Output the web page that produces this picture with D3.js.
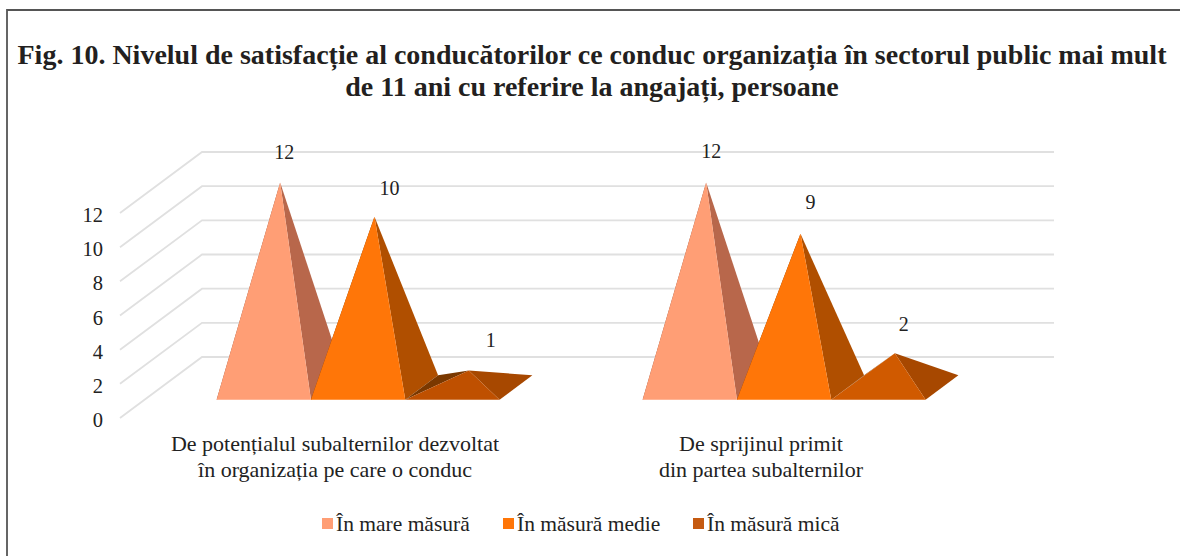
<!DOCTYPE html>
<html><head><meta charset="utf-8">
<script src="https://cdn.jsdelivr.net/npm/d3@7"></script>
<style>html,body{margin:0;padding:0;background:#fff}svg{display:block}text{font-family:"Liberation Serif",serif}</style>
</head><body><div id="c"></div>
<script>
const titleLines = ["Fig. 10. Nivelul de satisfacție al conducătorilor ce conduc organizația în sectorul public mai mult","de 11 ani cu referire la angajați, persoane"];
const categories = ["De potențialul subalternilor dezvoltat|în organizația pe care o conduc","De sprijinul primit|din partea subalternilor"];
const seriesNames = ["În mare măsură","În măsură medie","În măsură mică"];
const serie1 = [12,12];
const serie2 = [10,9];
const serie3 = [1,2];
const tickValues = [0,2,4,6,8,10,12];

const W=1180,H=556;
const svg=d3.select("#c").append("svg").attr("width",W).attr("height",H);
const seriesData=[serie1,serie2,serie3];
const frontColors=[["#FF9E75","#FF9E75"],["#FF7608","#FF7608"],["#BF5000","#D05A00"]];
const rightColors=["#B8674B","#B04F00","#A74800"];
const leftColors=["#8a4a35","#7a3800","#7a3800"];
const legendColors=["#FF9E75","#FF7608","#C55A11"];
const labelNudge=[[[4,-31],[5,-32]],[[15,-29],[10,-32]],[[22,-30],[9,-29]]];

// frame
svg.append("path").attr("d",`M7,${H} V10 H${W}`).attr("fill","none").attr("stroke","#555").attr("stroke-width",1.8);

// title
svg.selectAll("text.title").data(titleLines).join("text").attr("class","title")
 .attr("x",592).attr("y",(d,i)=>64+i*32).attr("text-anchor","middle")
 .attr("font-weight","bold").attr("font-size",28).attr("fill","#231f20").text(d=>d);

// scales
const y=d3.scaleLinear().domain([0,12]).range([418,213]);
const band=d3.scaleBand().domain(categories).range([120,972]);
const depth=d3.scaleLinear().domain([0,1]);
const dx=depth.copy().range([0,82]), dy=depth.copy().range([0,-61]);
const series=d3.scaleBand().domain(d3.range(3)).range([0,283]);
const P=(x,v,d)=>[x+dx(d),y(v)+dy(d)];

// grid
const g=svg.append("g");
tickValues.forEach(v=>{
  const a=P(120,v,0),b=P(120,v,1),c=P(972,v,1);
  g.append("path").attr("d",d3.line()([a,b,c])).attr("fill","none").attr("stroke","#e0e0e0").attr("stroke-width",1.8);
});
// axis labels
const axisG=svg.append("g").attr("transform","translate(103,2)")
 .call(d3.axisLeft(y).tickValues(tickValues).tickSize(0).tickPadding(0));
axisG.select(".domain").remove();
axisG.selectAll("text").attr("font-size",20.5).attr("font-family","Liberation Serif").attr("fill","#222").attr("dy","0.32em");

// pyramids
const line=d3.line().curve(d3.curveLinearClosed);
const d0=0.3,d1=0.7;
const catLeft=cat=>band(cat)+band.bandwidth()/2-141;
categories.forEach((cat,ci)=>{
  const left=catLeft(cat);
  seriesData.forEach((vals,si)=>{
    const x0=left+series(si), x1=x0+series.bandwidth(), xm=(x0+x1)/2, v=vals[ci];
    const apex=P(xm,v,0.5), fl=P(x0,0,d0), fr=P(x1,0,d0), bl=P(x0,0,d1), br=P(x1,0,d1);
    svg.append("path").attr("d",line([fl,bl,apex])).attr("fill",leftColors[si]);
    svg.append("path").attr("d",line([fr,br,apex])).attr("fill",rightColors[si]);
    svg.append("path").attr("d",line([fl,fr,apex])).attr("fill",frontColors[si][ci]);
  });
});
// value labels (drawn last)
categories.forEach((cat,ci)=>{
  const left=catLeft(cat);
  seriesData.forEach((vals,si)=>{
    const xm=left+series(si)+series.bandwidth()/2, v=vals[ci], apex=P(xm,v,0.5), n=labelNudge[si][ci];
    svg.append("text").attr("x",apex[0]+n[0]).attr("y",apex[1]+n[1]).attr("dy","0.35em").attr("text-anchor","middle")
      .attr("font-size",20).attr("fill","#222").text(v);
  });
  cat.split("|").forEach((t,i)=>{
    svg.append("text").attr("x",band(cat)+band.bandwidth()/2+2).attr("y",451+i*26).attr("text-anchor","middle")
      .attr("font-size",22).attr("fill","#222").text(t);
  });
});
// legend
const legendX=[322,503,693];
seriesNames.forEach((s,i)=>{
  svg.append("rect").attr("x",legendX[i]).attr("y",518).attr("width",11).attr("height",11).attr("fill",legendColors[i]);
  svg.append("text").attr("x",legendX[i]+14).attr("y",531).attr("font-size",21.5).attr("fill","#222").text(s);
});
</script></body></html>
